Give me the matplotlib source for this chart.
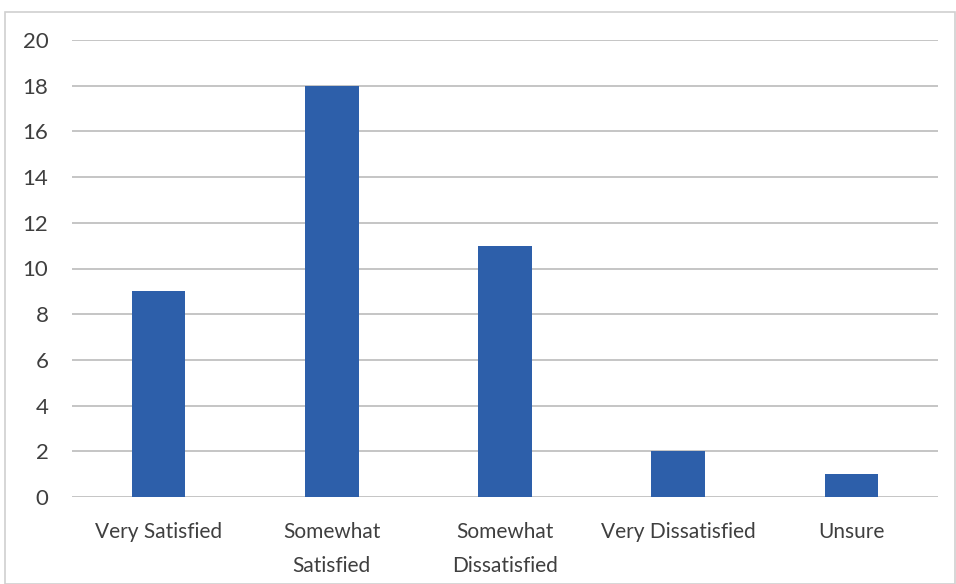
import matplotlib
matplotlib.use('Agg')
import matplotlib.pyplot as plt
from matplotlib.patches import Rectangle

categories = ['Very Satisfied', 'Somewhat\nSatisfied', 'Somewhat\nDissatisfied',
              'Very Dissatisfied', 'Unsure']
counts = [9, 18, 11, 2, 1]
yticks = list(range(0, 21, 2))

plt.rcParams['font.family'] = ['Lato', 'DejaVu Sans']

fig = plt.figure(figsize=(9.56, 5.84), dpi=100)
ax = fig.add_axes([72/956, 1 - 497/584, 866/956, 457/584])

x = range(len(categories))
ax.bar(x, counts, width=0.31, color='#2D5FAA', zorder=3)

ax.set_xlim(-0.5, len(categories) - 0.5)
ax.set_ylim(0, 20)
ax.set_yticks(yticks)
ax.set_xticks(list(x))
ax.set_xticklabels(categories, fontsize=15, color='#3f3f3f', linespacing=1.9)
ax.tick_params(axis='y', labelsize=16, labelcolor='#3f3f3f', length=0, pad=17)
ax.tick_params(axis='x', length=0, pad=18)
ax.grid(axis='y', color='#c0c0c0', linewidth=1.3, zorder=0)
for s in ax.spines.values():
    s.set_visible(False)

# light chart border
fig.patches.append(Rectangle((5/956, 0), 950/956, 1 - 12/584, transform=fig.transFigure,
                             fill=False, edgecolor='#d0d0d0', linewidth=1.2))

plt.savefig('out.png')
plt.close()
